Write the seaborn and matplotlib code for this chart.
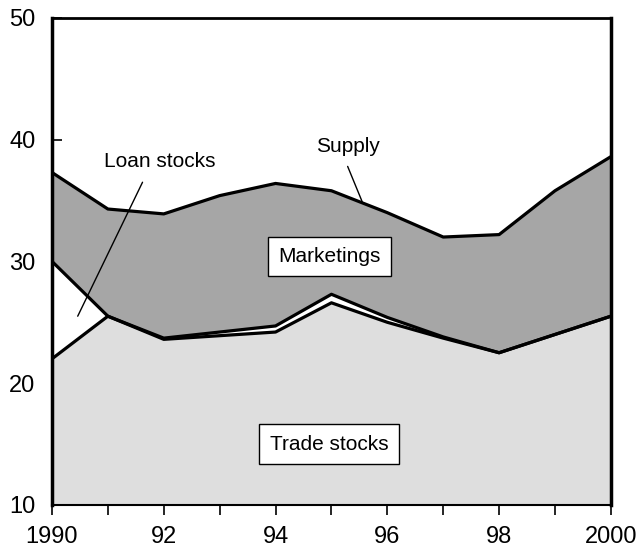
import seaborn as sns
import pandas as pd
import matplotlib.pyplot as plt

# values
years = [1990, 1991, 1992, 1993, 1994, 1995, 1996, 1997, 1998, 1999, 2000]
trade_stocks = [22.0, 25.5, 23.6, 23.9, 24.2, 26.6, 25.0, 23.7, 22.5, 24.0, 25.5]
loan_top = [30.0, 25.5, 23.7, 24.2, 24.7, 27.3, 25.4, 23.8, 22.5, 24.0, 25.5]
supply = [37.3, 34.3, 33.9, 35.4, 36.4, 35.8, 34.0, 32.0, 32.2, 35.8, 38.6]
xtick_labels = ['1990', '', '92', '', '94', '', '96', '', '98', '', '2000']
yticks = [10, 20, 30, 40, 50]

df = pd.DataFrame({'year': years, 'trade': trade_stocks,
                   'loan': loan_top, 'supply': supply})

sns.set_style('white')
plt.rcParams['font.family'] = ['Liberation Sans', 'DejaVu Sans']
plt.rcParams['text.color'] = 'black'
plt.rcParams['xtick.color'] = 'black'
plt.rcParams['ytick.color'] = 'black'

fig = plt.figure(figsize=(6.38, 5.48), dpi=100)
ax = fig.add_axes([0.0815, 0.0785, 0.876, 0.889])

ax.fill_between(df['year'], 10, df['trade'], color='#dedede', lw=0)
ax.fill_between(df['year'], df['trade'], df['loan'], color='white', lw=0)
ax.fill_between(df['year'], df['loan'], df['supply'], color='#a6a6a6', lw=0)

for col in ['trade', 'loan', 'supply']:
    sns.lineplot(data=df, x='year', y=col, ax=ax, color='black', lw=2.3)

# labels
box = dict(boxstyle='square,pad=0.5', fc='white', ec='black', lw=1)
ax.text(1994.96, 30.4, 'Marketings', ha='center', va='center',
        fontsize=15, bbox=box)
ax.text(1994.96, 15.0, 'Trade stocks', ha='center', va='center',
        fontsize=15, bbox=box)

ax.text(1991.93, 38.2, 'Loan stocks', ha='center', va='center', fontsize=15)
ax.annotate('', xy=(1990.46, 25.5), xytext=(1991.62, 36.5),
            arrowprops=dict(arrowstyle='-', color='black', lw=1,
                            shrinkA=0, shrinkB=0))
ax.text(1995.3, 39.4, 'Supply', ha='center', va='center', fontsize=15)
ax.annotate('', xy=(1995.55, 34.9), xytext=(1995.29, 37.8),
            arrowprops=dict(arrowstyle='-', color='black', lw=1,
                            shrinkA=0, shrinkB=0))

ax.set_xlim(1990, 2000)
ax.set_ylim(10, 50)
ax.set_xticks(years)
ax.set_xticklabels(xtick_labels)
ax.set_yticks(yticks)
ax.set_xlabel('')
ax.set_ylabel('')
ax.tick_params(axis='x', direction='out', length=7, width=1.2,
               labelsize=17, pad=8, bottom=True)
ax.tick_params(axis='y', direction='in', length=7, width=1.2,
               labelsize=17, pad=12, left=True)

for side, w in [('left', 2.5), ('right', 2.5), ('top', 2), ('bottom', 1.5)]:
    ax.spines[side].set_visible(True)
    ax.spines[side].set_color('black')
    ax.spines[side].set_linewidth(w)

fig.savefig('out.png', dpi=100)
